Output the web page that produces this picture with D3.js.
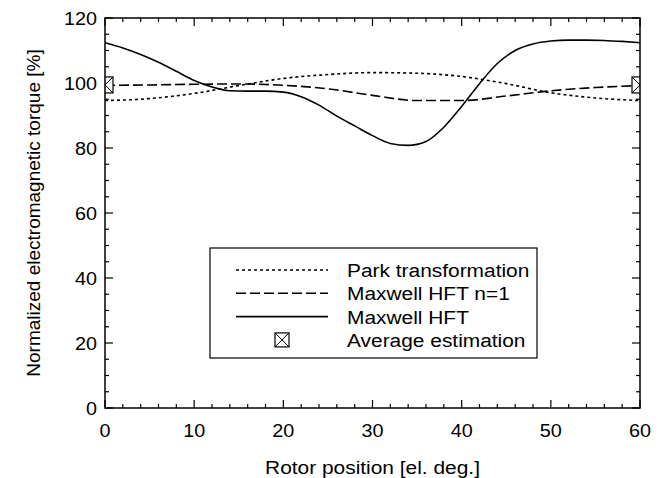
<!DOCTYPE html>
<html>
<head>
<meta charset="utf-8">
<script src="https://cdn.jsdelivr.net/npm/d3@7"></script>
<style>
  body { margin: 0; background: #fff; }
  svg text { font-family: "Liberation Sans", Arial, sans-serif; fill: #000; }
</style>
</head>
<body>
<div id="chart"></div>
<script>
var width = 670,
    height = 478;

var margin = {left: 105, right: 30, top: 18, bottom: 70};

// rotor position [el. deg.]
var parkPos = [0, 5, 10, 15, 20, 25, 30, 35, 40, 45, 50, 55, 60];
var parkVal = [94.6, 95.2, 96.8, 99.2, 101.4, 102.6, 103.2, 103.0, 102.0, 99.8, 97.0, 95.4, 94.6];

var hft1Pos = [0, 5, 10, 15, 20, 25, 30, 35, 40, 45, 50, 55, 60];
var hft1Val = [99.3, 99.4, 99.6, 99.7, 99.3, 98.2, 96.2, 94.6, 94.6, 96.0, 97.6, 98.6, 99.2];

var hftPos = [0, 2, 4, 6, 8, 10, 12, 14, 16, 18, 20, 22, 24, 26, 28, 30,
              32, 34, 36, 38, 40, 42, 44, 46, 48, 50, 52, 54, 56, 58, 60];
var hftVal = [112.4, 110.8, 108.8, 106.4, 103.6, 100.8, 98.8, 97.6, 97.5, 97.5, 97.2, 95.8,
              93.2, 89.8, 86.8, 83.8, 81.4, 80.8, 82.0, 86.4, 92.8, 99.8, 106.0, 110.0,
              112.0, 112.9, 113.2, 113.2, 113.1, 112.8, 112.4];

var avgPos = [0, 60];
var avgVal = [99.4, 99.4];

var xTicks = [0, 10, 20, 30, 40, 50, 60];
var yTicks = [0, 20, 40, 60, 80, 100, 120];

var legendLabels = ["Park transformation", "Maxwell HFT n=1", "Maxwell HFT", "Average estimation"];

var stretch = 1.1; // the original text is a bit wide

var svg = d3.select("#chart").append("svg")
    .attr("width", width)
    .attr("height", height);

var x = d3.scaleLinear().domain([0, 60]).range([margin.left, width - margin.right]);
var y = d3.scaleLinear().domain([0, 120]).range([height - margin.bottom, margin.top]);

var x0 = x.range()[0], x1 = x.range()[1], y0 = y.range()[0], y1 = y.range()[1];

svg.append("clipPath").attr("id", "plotclip")
  .append("rect")
    .attr("x", x0).attr("y", y1)
    .attr("width", x1 - x0).attr("height", y0 - y1);

// ticks pointing inward, on all four sides
var ticks = svg.append("g").attr("stroke", "#000").attr("stroke-width", 1.2);
d3.range(0, 61, 2).forEach(function(v) {
  var len = v % 10 === 0 ? 8 : 4;
  ticks.append("line").attr("x1", x(v)).attr("x2", x(v)).attr("y1", y0).attr("y2", y0 - len);
  ticks.append("line").attr("x1", x(v)).attr("x2", x(v)).attr("y1", y1).attr("y2", y1 + len);
});
d3.range(0, 121, 5).forEach(function(v) {
  var len = v % 20 === 0 ? 8 : 4;
  ticks.append("line").attr("x1", x0).attr("x2", x0 + len).attr("y1", y(v)).attr("y2", y(v));
  ticks.append("line").attr("x1", x1).attr("x2", x1 - len).attr("y1", y(v)).attr("y2", y(v));
});

function wideText(g, tx, ty, txt, size, anchor) {
  return g.append("text")
      .attr("transform", "translate(" + tx + "," + ty + ") scale(" + stretch + ",1)")
      .attr("text-anchor", anchor || "start")
      .style("font-size", size + "px")
      .text(txt);
}

xTicks.forEach(function(d) {
  wideText(svg, x(d), y0 + 29, d, 18, "middle");
});
yTicks.forEach(function(d) {
  wideText(svg, x0 - 8, y(d) + 6.5, d, 18, "end");
});

wideText(svg, (x0 + x1) / 2, 474, "Rotor position [el. deg.]", 19, "middle");

svg.append("text")
    .attr("transform", "translate(40," + ((y0 + y1) / 2) + ") rotate(-90)")
    .attr("text-anchor", "middle")
    .style("font-size", "19px")
    .text("Normalized electromagnetic torque [%]");

var line = d3.line()
    .x(d => x(d[0]))
    .y(d => y(d[1]))
    .curve(d3.curveMonotoneX);

var series = [
  {pos: parkPos, val: parkVal, dash: "3,3"},
  {pos: hft1Pos, val: hft1Val, dash: "10,4"},
  {pos: hftPos, val: hftVal, dash: null}
];

var plot = svg.append("g").attr("clip-path", "url(#plotclip)");

series.forEach(function(s) {
  plot.append("path")
      .datum(d3.zip(s.pos, s.val))
      .attr("d", line)
      .attr("fill", "none")
      .attr("stroke", "#000")
      .attr("stroke-width", 1.6)
      .attr("stroke-dasharray", s.dash);
});

function marker(g, cx, cy, w, h) {
  g.append("rect").attr("x", cx - w / 2).attr("y", cy - h / 2).attr("width", w).attr("height", h)
      .attr("fill", "#fff").attr("stroke", "#000").attr("stroke-width", 1.2);
  g.append("path")
      .attr("d", "M" + (cx - w / 2) + "," + (cy - h / 2) + "L" + (cx + w / 2) + "," + (cy + h / 2) +
                 "M" + (cx + w / 2) + "," + (cy - h / 2) + "L" + (cx - w / 2) + "," + (cy + h / 2))
      .attr("stroke", "#000").attr("stroke-width", 1);
}

avgPos.forEach(function(p, i) {
  marker(plot, x(p), y(avgVal[i]), 16, 16);
});

svg.append("rect")
    .attr("x", x0).attr("y", y1)
    .attr("width", x1 - x0).attr("height", y0 - y1)
    .attr("fill", "none").attr("stroke", "#000").attr("stroke-width", 1.5);

// legend
var lg = svg.append("g");
lg.append("rect")
    .attr("x", 210).attr("y", 248).attr("width", 327).attr("height", 110)
    .attr("fill", "#fff").attr("stroke", "#000").attr("stroke-width", 1.2);

legendLabels.forEach(function(lbl, i) {
  var ly = 270 + i * 23.3;
  if (i < 3) {
    lg.append("line")
        .attr("x1", 236).attr("x2", 328).attr("y1", ly).attr("y2", ly)
        .attr("stroke", "#000").attr("stroke-width", 1.6)
        .attr("stroke-dasharray", series[i].dash);
  } else {
    marker(lg, 282, ly, 14, 14);
  }
  wideText(lg, 347, ly + 7, lbl, 19);
});
</script>
</body>
</html>
